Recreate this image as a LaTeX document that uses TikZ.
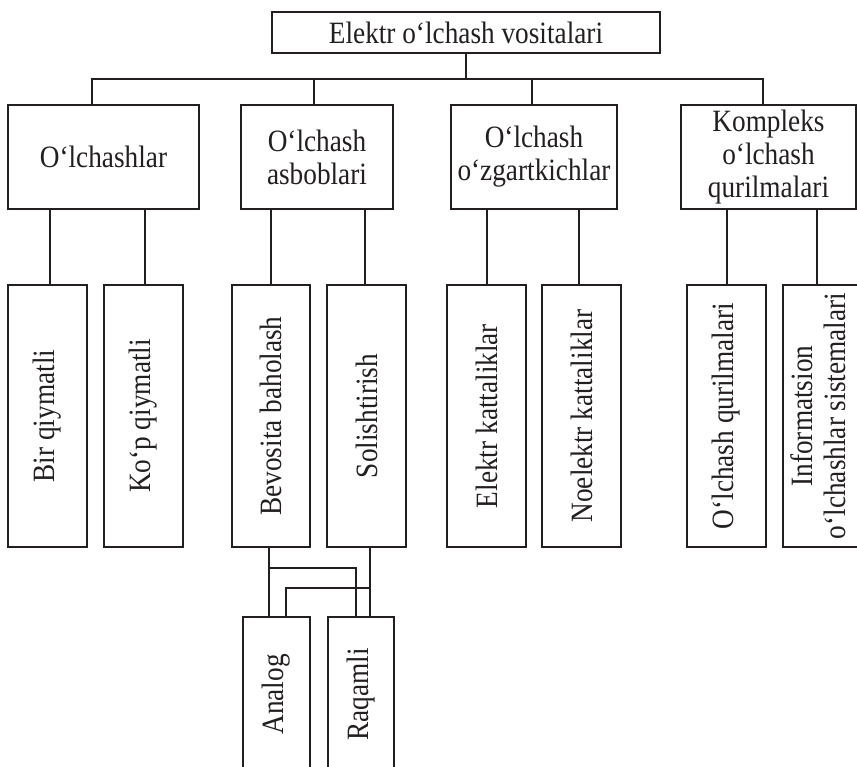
\documentclass[tikz,border=0pt]{standalone}
\usepackage{fontspec}
\usepackage{graphicx}
\setmainfont{Liberation Serif}[FakeStretch=0.88]
\definecolor{ink}{RGB}{35,31,32}
\newcommand\uptext[1]{\rotatebox{90}{#1}}
\newcommand\uptwo[2]{\rotatebox{90}{\begin{tabular}{@{}c@{}}#1\\#2\end{tabular}}}
\begin{document}
\begin{tikzpicture}[x=1pt,y=-1pt,
  box/.style={draw=ink, line width=2.6pt, inner sep=0pt, outer sep=0pt,
    anchor=north west, text=ink, align=center,
    font=\fontsize{31}{33}\selectfont},
  wire/.style={draw=ink, line width=2.6pt}]
\useasboundingbox (0,0) rectangle (857,767);
\fill[white] (0,0) rectangle (857,767);
\clip (0,0) rectangle (857,767);

% root
\node[box, minimum width=388pt, minimum height=41pt] (root) at (272,12)
  {Elektr o‘lchash vositalari};

% second level
\node[box, minimum width=191pt, minimum height=104pt] (c1) at (8,105) {O‘lchashlar};
\node[box, minimum width=152pt, minimum height=104pt] (c2) at (241,105) {O‘lchash\\asboblari};
\node[box, minimum width=166pt, minimum height=104pt] (c3) at (451,105) {O‘lchash\\o‘zgartkichlar};
\node[box, minimum width=175pt, minimum height=104pt] (c4) at (681,105) {Kompleks\\o‘lchash\\qurilmalari};

% third level (vertical captions)
\node[box, minimum width=79pt, minimum height=262pt] (b1) at (8,285)   {\uptext{Bir qiymatli}};
\node[box, minimum width=79pt, minimum height=262pt] (b2) at (104,285) {\uptext{Ko‘p qiymatli}};
\node[box, minimum width=78pt, minimum height=262pt] (b3) at (232,285) {\uptext{Bevosita baholash}};
\node[box, minimum width=79pt, minimum height=262pt] (b4) at (327,285) {\uptext{Solishtirish}};
\node[box, minimum width=79pt, minimum height=262pt] (b5) at (447,285) {\uptext{Elektr kattaliklar}};
\node[box, minimum width=79pt, minimum height=262pt] (b6) at (542,285) {\uptext{Noelektr kattaliklar}};
\node[box, minimum width=79pt, minimum height=262pt] (b7) at (687,285) {\uptext{O‘lchash qurilmalari}};
\node[box, minimum width=79pt, minimum height=262pt] (b8) at (783,285)
  {\uptwo{Informatsion}{o‘lchashlar sistemalari}};

% fourth level
\node[box, minimum width=67pt, minimum height=155pt] (an) at (243,617) {\uptext{Analog}};
\node[box, minimum width=66pt, minimum height=155pt] (rq) at (328,617) {\uptext{Raqamli}};

% root to second level
\coordinate (bus) at (466,79);
\draw[wire] (root.south) -- (bus);
\draw[wire] (92,0 |- c1.north) -- (92,79) -- (763,79) -- (763,0 |- c4.north);
\draw[wire] (314,79) -- (314,0 |- c2.north);
\draw[wire] (532,79) -- (532,0 |- c3.north);

% second to third level
\draw[wire] (50,0 |- c1.south)  -- (50,0 |- b1.north);
\draw[wire] (145,0 |- c1.south) -- (145,0 |- b2.north);
\draw[wire] (271,0 |- c2.south) -- (271,0 |- b3.north);
\draw[wire] (365,0 |- c2.south) -- (365,0 |- b4.north);
\draw[wire] (487,0 |- c3.south) -- (487,0 |- b5.north);
\draw[wire] (579,0 |- c3.south) -- (579,0 |- b6.north);
\draw[wire] (727,0 |- c4.south) -- (727,0 |- b7.north);
\draw[wire] (817,0 |- c4.south) -- (817,0 |- b8.north);

% third to fourth level
\draw[wire] (269,0 |- b3.south) -- (269,0 |- an.north);
\draw[wire] (269,568) -| (356,0 |- rq.north);
\draw[wire] (370,0 |- b4.south) -- (370,0 |- rq.north);
\draw[wire] (370,588) -| (286,0 |- an.north);
\end{tikzpicture}
\end{document}
